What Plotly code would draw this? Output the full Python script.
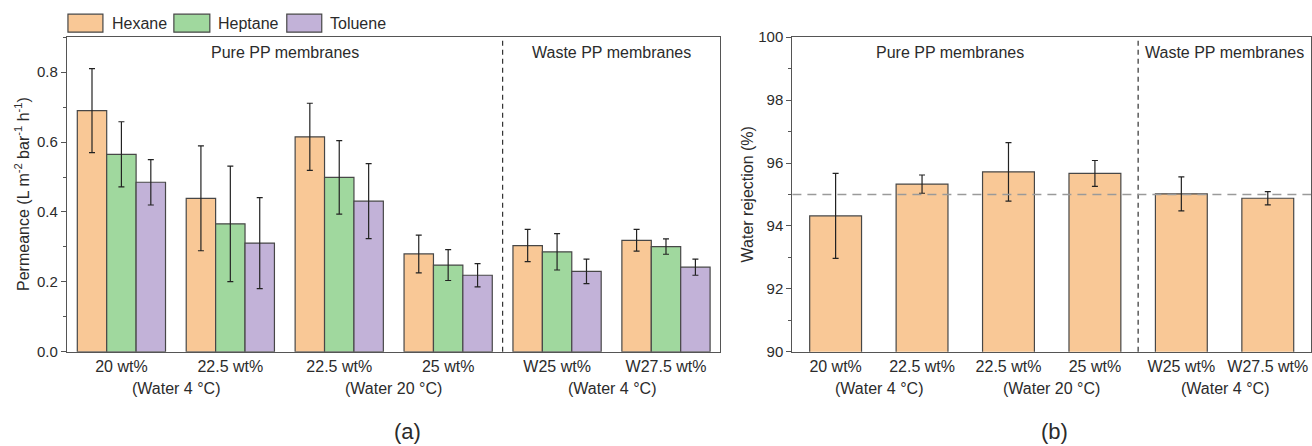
import plotly.graph_objects as go

# ---------------- data ----------------
categories = ["20 wt%", "22.5 wt%", "22.5 wt%", "25 wt%", "W25 wt%", "W27.5 wt%"]
group_labels = ["(Water 4 °C)", "(Water 20 °C)", "(Water 4 °C)"]
group_pos = [0.5, 2.5, 4.5]

solvents = ["Hexane", "Heptane", "Toluene"]
hexane = [0.690, 0.439, 0.615, 0.280, 0.304, 0.319]
hexane_err = [0.120, 0.150, 0.096, 0.054, 0.046, 0.031]
heptane = [0.565, 0.366, 0.499, 0.248, 0.286, 0.301]
heptane_err = [0.093, 0.165, 0.105, 0.044, 0.052, 0.022]
toluene = [0.485, 0.311, 0.431, 0.219, 0.230, 0.242]
toluene_err = [0.065, 0.130, 0.107, 0.033, 0.035, 0.023]

rejection = [94.32, 95.33, 95.72, 95.67, 95.02, 94.88]
rejection_err = [1.35, 0.29, 0.93, 0.41, 0.54, 0.21]
rejection_ref = 95

section_labels = ["Pure PP membranes", "Waste PP membranes"]

# ---------------- style ----------------
colors = ["#F9C896", "#A0D89E", "#C2B2D8"]
edge = "#474747"
axis_col = "#555555"
text_col = "#2b2b2b"
FONT = "Liberation Sans, Arial, sans-serif"
W, H = 1312, 446

def px(xp):
    return xp / W

def py(yp):
    # compensate for the vertical offset/scale observed in the capture
    yf = (yp - 8.8) / 0.963
    return 1 - yf / H

fig = go.Figure()
xs = list(range(len(categories)))

for name, vals, errs, col in zip(solvents, [hexane, heptane, toluene],
                                 [hexane_err, heptane_err, toluene_err], colors):
    fig.add_trace(go.Bar(
        x=xs, y=vals, name=name, xaxis="x", yaxis="y",
        marker=dict(color=col, line=dict(color=edge, width=1.2)),
        error_y=dict(type="data", array=errs, color="#222222", thickness=1.2, width=3),
        showlegend=False,
    ))

fig.add_trace(go.Bar(
    x=xs, y=rejection, xaxis="x2", yaxis="y2", width=0.6,
    marker=dict(color=colors[0], line=dict(color=edge, width=1.2)),
    error_y=dict(type="data", array=rejection_err, color="#222222", thickness=1.2, width=3),
    showlegend=False,
))

ydom = [py(352), py(37)]
axis_common = dict(showline=True, linecolor=axis_col, linewidth=1.3, mirror=True,
                   showgrid=False, zeroline=False)

fig.update_layout(
    width=W, height=H,
    margin=dict(l=0, r=0, t=0, b=0),
    paper_bgcolor="white", plot_bgcolor="white",
    barmode="group", bargap=0.19, bargroupgap=0,
    font=dict(family=FONT, color=text_col, size=15),
    xaxis=dict(domain=[px(67), px(721)], range=[-0.5, 5.5], tickmode="array",
               tickvals=xs, ticktext=categories, ticks="", anchor="y",
               tickfont=dict(size=16), **axis_common),
    yaxis=dict(domain=ydom, range=[0, 0.9], tickmode="array",
               tickvals=[0, 0.2, 0.4, 0.6, 0.8], ticktext=["0.0", "0.2", "0.4", "0.6", "0.8"],
               ticks="outside", ticklen=5, tickcolor=axis_col, anchor="x",
               minor=dict(ticks="outside", ticklen=3, dtick=0.1, tickcolor=axis_col),
               tickfont=dict(size=15), **axis_common),
    xaxis2=dict(domain=[px(793), 1.0], range=[-0.5, 5.5], tickmode="array",
                tickvals=xs, ticktext=categories, ticks="", anchor="y2",
                tickfont=dict(size=16), **axis_common),
    yaxis2=dict(domain=ydom, range=[90, 100], tickmode="array",
                tickvals=[90, 92, 94, 96, 98, 100],
                ticks="outside", ticklen=5, tickcolor=axis_col, anchor="x2",
                minor=dict(ticks="outside", ticklen=3, dtick=1, tickcolor=axis_col),
                tickfont=dict(size=15), **axis_common),
)

shapes = []
# section dividers
shapes.append(dict(type="line", xref="x", yref="paper", x0=3.5, x1=3.5, y0=ydom[0], y1=ydom[1],
                   line=dict(color="#333333", width=1.2, dash="5px,4px")))
shapes.append(dict(type="line", xref="x2", yref="paper", x0=3.5, x1=3.5, y0=ydom[0], y1=ydom[1],
                   line=dict(color="#333333", width=1.2, dash="5px,4px")))
# reference line
shapes.append(dict(type="line", xref="x2 domain", yref="y2", x0=0, x1=1, y0=rejection_ref, y1=rejection_ref,
                   line=dict(color="#9a9a9a", width=1.5, dash="9px,6px"), layer="above"))

annotations = []
# legend (drawn manually)
leg_boxes = [(68, 103, 110), (174, 210, 216), (287, 322, 328)]
for (x0, x1, xt), name, col in zip(leg_boxes, solvents, colors):
    shapes.append(dict(type="rect", xref="paper", yref="paper", x0=px(x0), x1=px(x1),
                       y0=py(32), y1=py(14), fillcolor=col, line=dict(color=edge, width=1.2)))
    annotations.append(dict(x=px(xt), y=py(23), xref="paper", yref="paper", text=name,
                            showarrow=False, xanchor="left", yanchor="middle",
                            font=dict(size=16)))

# group (second line) labels
for ax in ["x", "x2"]:
    for gp, gl in zip(group_pos, group_labels):
        annotations.append(dict(x=gp, y=py(389), xref=ax, yref="paper", text=gl,
                                showarrow=False, xanchor="center", yanchor="middle",
                                font=dict(size=16)))

# section labels
for xr, xv, lab in [("x", 1.5, section_labels[0]), ("x", 4.5, section_labels[1]),
                    ("x2", 1.32, section_labels[0]), ("x2", 4.5, section_labels[1])]:
    annotations.append(dict(x=xv, y=py(52), xref=xr, yref="paper", text=lab,
                            showarrow=False, yanchor="middle", font=dict(size=16)))

# axis titles
annotations.append(dict(x=px(22), y=py(194), xref="paper", yref="paper", textangle=-90,
                        text="Permeance (L m<sup>-2</sup> bar<sup>-1</sup> h<sup>-1</sup>)",
                        showarrow=False, xanchor="center", yanchor="middle", font=dict(size=16)))
annotations.append(dict(x=px(749), y=py(194), xref="paper", yref="paper", textangle=-90,
                        text="Water rejection (%)", showarrow=False,
                        xanchor="center", yanchor="middle", font=dict(size=16)))

# panel labels
annotations.append(dict(x=px(392), y=py(432), xref="paper", yref="paper", text="(a)",
                        showarrow=False, yanchor="middle", font=dict(size=22)))
annotations.append(dict(x=px(1071), y=py(432), xref="paper", yref="paper", text="(b)",
                        showarrow=False, yanchor="middle", font=dict(size=22)))

fig.update_layout(shapes=shapes, annotations=annotations)
fig.write_html("out.html", config={"displayModeBar": False},
               post_script="document.body.style.margin='0';document.body.style.overflow='hidden';")
